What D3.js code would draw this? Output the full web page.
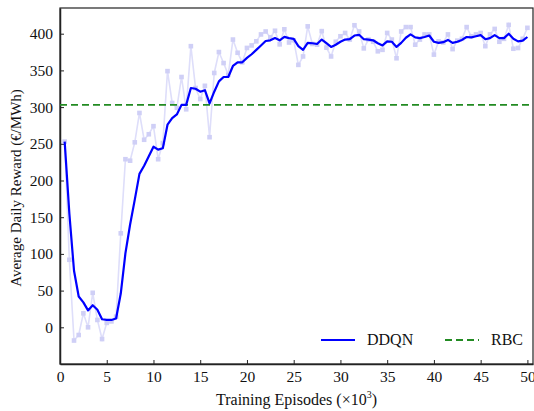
<!DOCTYPE html>
<html>
<head>
<meta charset="utf-8">
<script src="https://cdn.jsdelivr.net/npm/d3@7"></script>
<style>
  body { margin: 0; background: #fff; }
  svg text { font-family: "Liberation Serif", "Times New Roman", "DejaVu Serif", serif !important; fill: #111; }
</style>
</head>
<body>
<div id="chart"></div>
<script>
// episodes (x1000), one reading every 500 episodes
const episodes = d3.range(1, 101).map(i => i * 0.5);

// raw per-checkpoint reward (light trace)
const rawReward = [
  253, 92, -18, -10.5, 19, 0, 47, 10, -16, 6,
  8, 14.5, 128, 229, 227, 252, 292, 255.5, 263, 274,
  229, 251, 349, 305.6, 299, 341, 297, 383, 326, 311,
  329, 259, 346.5, 375, 360, 344, 392, 374, 361, 380.6,
  384, 389.6, 399, 403, 395, 404, 385.5, 406, 388, 391,
  357.5, 369, 410, 386, 385, 403.5, 381, 369, 389, 396.5,
  401, 392, 411.5, 403, 380, 392, 389, 376, 378, 401,
  392, 366.5, 403, 409, 409, 385, 392, 399, 399, 371.5,
  389.5, 388, 399, 379, 390.5, 393, 409, 396.5, 399, 401,
  383, 399, 406.5, 389, 393, 412, 379.5, 380.5, 393, 408
];

// smoothed DDQN curve
const ddqn = [
  253, 155, 77, 42, 34, 23, 30, 24, 11, 10,
  10, 12, 46, 101, 140, 174, 209, 220, 233, 246,
  242, 244, 276, 285, 290, 303, 303, 326, 325, 321,
  323, 305, 321, 335, 341, 341, 356, 361, 361, 367,
  372, 378, 384, 390, 391, 394, 391, 395.6, 394, 393,
  383, 378, 387.5, 387, 386, 392, 387, 382, 385, 389,
  392, 392.5, 397.5, 398.5, 392.5, 392, 391, 387, 384, 389.5,
  389, 382, 387.5, 394.5, 399, 395, 394, 395.5, 397.5, 389,
  387.5, 388.5, 391.5, 387.5, 389, 391.5, 395.5, 395, 396.5, 398,
  392.5, 394, 398, 394, 394, 400, 393, 389.5, 390.5, 395.5
];

const rbcValue = 303;

const xTicks = d3.range(0, 51, 5);
const yTicks = d3.range(0, 401, 50);

const W = 534, H = 411;
const margin = { top: 8, right: 1, bottom: 47, left: 60 };
const width = W - margin.left - margin.right;
const height = H - margin.top - margin.bottom;

const svg = d3.select("#chart").append("svg")
  .attr("width", W)
  .attr("height", H);

const g = svg.append("g")
  .attr("transform", `translate(${margin.left},${margin.top})`);

const x = d3.scaleLinear().domain([0, 50.6]).range([0, width]);
const y = d3.scaleLinear().domain([-50, 435]).range([height, 0]);

// frame
g.append("rect")
  .attr("width", width).attr("height", height)
  .attr("fill", "none").attr("stroke", "#222").attr("stroke-width", 1.2);

// axes, ticks pointing inward
const xAxis = g.append("g")
  .attr("transform", `translate(0,${height})`)
  .call(d3.axisBottom(x).tickValues(xTicks).tickSizeInner(-4).tickSizeOuter(0).tickPadding(7));
const yAxis = g.append("g")
  .call(d3.axisLeft(y).tickValues(yTicks).tickSizeInner(-4).tickSizeOuter(0).tickPadding(7));

[xAxis, yAxis].forEach(a => {
  a.select(".domain").attr("stroke", "#222").attr("stroke-width", 1.5);
  a.selectAll(".tick line").attr("stroke", "#222").attr("stroke-width", 1);
  a.selectAll(".tick text").attr("font-size", 15.5).attr("fill", "#111");
});

// raw trace
const line = d3.line().x((d, i) => x(episodes[i])).y(d => y(d));

g.append("path")
  .datum(rawReward)
  .attr("d", line)
  .attr("fill", "none")
  .attr("stroke", "#dedefa")
  .attr("stroke-width", 1.6);

g.selectAll(".mk")
  .data(rawReward)
  .enter().append("rect")
  .attr("class", "mk")
  .attr("x", (d, i) => x(episodes[i]) - 2.3)
  .attr("y", d => y(d) - 2.3)
  .attr("width", 4.6).attr("height", 4.6)
  .attr("fill", "#cfcff6");

// RBC baseline
g.append("line")
  .attr("x1", 0).attr("x2", width)
  .attr("y1", y(rbcValue)).attr("y2", y(rbcValue))
  .attr("stroke", "#228b22")
  .attr("stroke-width", 1.8)
  .attr("stroke-dasharray", "7,4");

// DDQN smoothed
g.append("path")
  .datum(ddqn)
  .attr("d", line)
  .attr("fill", "none")
  .attr("stroke", "#0000ff")
  .attr("stroke-width", 2.2)
  .attr("stroke-linejoin", "round");

// legend
const legend = g.append("g").attr("transform", `translate(${261},${332})`);
legend.append("line").attr("x1", 0).attr("x2", 34).attr("y1", 0).attr("y2", 0)
  .attr("stroke", "#0000ff").attr("stroke-width", 2.2);
legend.append("text").attr("x", 46).attr("y", 5).attr("font-size", 16).text("DDQN");
legend.append("line").attr("x1", 124).attr("x2", 158).attr("y1", 0).attr("y2", 0)
  .attr("stroke", "#228b22").attr("stroke-width", 1.8).attr("stroke-dasharray", "7,4");
legend.append("text").attr("x", 170).attr("y", 5).attr("font-size", 16).text("RBC");

// axis labels
const xl = svg.append("text")
  .attr("x", margin.left + width / 2)
  .attr("y", 405)
  .attr("text-anchor", "middle")
  .attr("font-size", 16);
xl.append("tspan").text("Training Episodes (×10");
xl.append("tspan").attr("dy", -7).attr("font-size", 10).text("3");
xl.append("tspan").attr("dy", 7).text(")");

svg.append("text")
  .attr("transform", `translate(21,188) rotate(-90)`)
  .attr("text-anchor", "middle")
  .attr("font-size", 15)
  .text("Average Daily Reward (€/MWh)");
</script>
</body>
</html>
